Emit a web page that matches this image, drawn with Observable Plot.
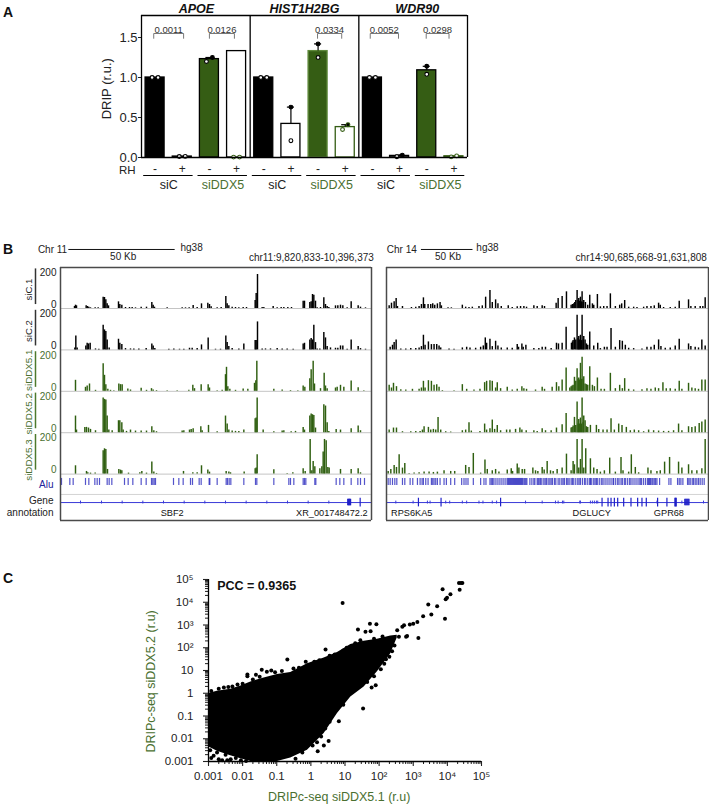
<!DOCTYPE html>
<html>
<head>
<meta charset="utf-8">
<script src="https://cdn.jsdelivr.net/npm/d3@7"></script>
<script src="https://cdn.jsdelivr.net/npm/@observablehq/plot@0.6"></script>
<style>
html,body{margin:0;padding:0;background:#fff}
#fig{position:relative;width:709px;height:804px;overflow:hidden;font-family:"Liberation Sans",Arial,sans-serif}
#fig svg{position:absolute;background:transparent;overflow:visible}
.tag{position:absolute;left:3px;font-weight:bold;font-size:14px;line-height:14px;color:#111}
</style>
</head>
<body>
<div id="fig">
<div class="tag" style="top:5px">A</div>
<div class="tag" style="top:242px">B</div>
<div class="tag" style="top:571px">C</div>
</div>
<script>
// ---------- Panel A data ----------
const genes = ["APOE", "HIST1H2BG", "WDR90"];
const rhLabels = ["-","+","-","+","-","+","-","+","-","+","-","+"];
const groupLabels = ["siC","siDDX5","siC","siDDX5","siC","siDDX5"];
const drip = [1.0,0.012,1.23,1.33, 1.0,0.42,1.33,0.38, 1.0,0.02,1.09,0.015];
const dripDots = [
  [[-0.11,1.0],[0.11,1.0]], [[-0.11,0.012],[0.11,0.014]], [[-0.11,1.2],[0.11,1.25]], [[-0.11,0.005],[0.11,0.005]],
  [[-0.11,1.0],[0.11,1.0]], [[0,0.21],[0,0.63]], [[0,1.25],[0,1.42]], [[-0.1,0.35],[0.1,0.41]],
  [[-0.11,1.0],[0.11,1.0]], [[-0.1,0.01],[0.1,0.03]], [[0,1.04],[0,1.14]], [[-0.1,0.008],[0.1,0.02]]
];
const dripErrTop = [null,null,1.25,null, null,0.63,1.42,0.41, null,0.03,1.14,null];
const pLabels = ["0.0011","0.0126","0.0334","0.0052","0.0298"];
const pFrom = [0.45,2.5,6.48,8.42,10.48];
const pTo = [1.55,3.42,7.37,9.46,11.32];

// ---------- Panel A styles ----------
const GREEN = "#355d14", GREENTXT = "#4a7030";
const barFill = ["#000","#000",GREEN,"#fff","#000","#fff",GREEN,"#fff","#000","#777",GREEN,GREEN];
const barStroke = ["#000","#000","#000","#000","#000","#000","#5f8a3c",GREEN,"#000","#000","#000",GREEN];
const dotStroke = ["#000","#000","#000",GREEN,"#000","#000","#000",GREEN,"#000","#000","#000",GREEN];

// ---------- Panel B data: [position along the window, signal reading] ----------
const L_siC1 = [[222,6],[225,10],[228,8],[257,8],[261,6],[265,4],[270,2],[284,2],[293,2],[308,34],[312,33],[316,26],[320,14],[324,8],[354,20],[358,12],[364,10],[375,3],[387,3],[395,3],[405,2],[422,4],[438,4],[454,18],[458,10],[462,4],[500,2],[545,2],[555,2],[566,2],[578,9],[590,3],[603,14],[622,16],[627,12],[632,5],[650,2],[662,3],[676,36],[680,14],[685,8],[695,4],[705,3],[715,2],[728,3],[738,3],[764,24],[767,45],[771,102],[785,3],[790,3],[818,6],[830,2],[842,3],[850,3],[862,3],[873,3],[908,22],[912,22],[928,18],[932,20],[936,42],[940,40],[945,22],[950,2],[960,3],[970,32],[975,12],[980,6],[985,3],[1005,8],[1012,8],[1020,10],[1027,8],[1040,2],[1052,20],[1073,8],[1080,4],[1095,2]];
const L_siC2 = [[223,6],[226,42],[230,6],[256,12],[260,20],[264,18],[269,20],[285,3],[295,2],[308,74],[312,60],[316,55],[320,30],[326,6],[354,32],[358,20],[364,16],[375,4],[390,3],[400,3],[415,3],[437,4],[454,18],[458,12],[463,4],[505,2],[520,3],[537,2],[550,2],[567,5],[575,5],[590,4],[603,15],[623,36],[645,2],[660,2],[676,42],[680,22],[685,10],[695,4],[715,3],[730,18],[764,28],[767,28],[771,84],[785,3],[795,3],[810,3],[830,4],[845,3],[860,3],[878,2],[908,18],[912,20],[928,30],[932,34],[936,30],[940,74],[945,22],[950,3],[958,3],[970,52],[975,36],[980,10],[990,6],[1005,5],[1012,5],[1020,12],[1027,12],[1040,2],[1052,30],[1073,10],[1080,4],[1095,2]];
const L_dd1 = [[225,33],[255,12],[260,16],[267,22],[285,3],[308,83],[312,48],[316,20],[322,6],[330,3],[340,2],[355,22],[360,20],[365,20],[382,7],[390,4],[422,9],[438,3],[453,8],[458,4],[468,2],[500,2],[530,2],[565,3],[577,18],[582,8],[602,20],[623,20],[627,10],[650,2],[665,3],[675,50],[678,72],[682,14],[688,6],[705,3],[728,7],[742,6],[762,24],[766,32],[769,90],[820,6],[845,4],[870,2],[892,2],[908,16],[913,12],[928,38],[932,65],[938,90],[942,22],[960,8],[971,54],[975,16],[980,8],[1005,10],[1010,12],[1020,18],[1030,12],[1052,31],[1073,11],[1090,2]];
const L_dd2 = [[225,50],[228,8],[253,16],[258,16],[264,14],[270,10],[285,6],[308,104],[312,100],[316,98],[320,50],[325,8],[335,6],[354,36],[358,36],[364,30],[368,8],[378,4],[390,8],[405,5],[422,5],[438,5],[454,18],[460,6],[468,3],[545,5],[550,6],[567,8],[572,10],[578,12],[601,18],[605,6],[624,22],[650,3],[675,50],[680,26],[685,8],[695,5],[705,4],[715,4],[730,8],[764,42],[767,44],[770,104],[788,8],[820,3],[845,5],[850,6],[872,3],[885,4],[908,16],[912,8],[928,50],[932,56],[936,54],[940,52],[945,14],[970,84],[975,80],[980,30],[985,4],[1007,10],[1020,8],[1052,12],[1073,20],[1080,6]];
const L_dd3 = [[225,25],[258,8],[262,4],[270,3],[284,3],[308,70],[312,76],[316,74],[321,14],[355,14],[360,12],[364,10],[384,3],[418,4],[424,8],[438,3],[454,36],[460,6],[468,2],[549,8],[577,4],[590,4],[603,25],[622,12],[627,6],[677,8],[685,6],[690,4],[731,6],[764,16],[767,18],[770,58],[820,13],[860,2],[877,4],[908,16],[914,8],[929,104],[934,10],[938,38],[943,22],[958,16],[964,22],[968,66],[972,104],[977,100],[982,20],[986,18],[1020,14],[1052,14],[1073,16],[1080,4]];
const R_siC1 = [[25,8],[32,16],[40,20],[46,30],[50,6],[65,6],[92,3],[105,4],[115,6],[122,12],[128,32],[132,12],[142,12],[150,12],[156,14],[162,10],[170,14],[178,18],[182,8],[202,2],[212,2],[245,10],[255,4],[265,3],[275,4],[295,6],[305,8],[315,34],[328,54],[335,18],[345,26],[352,14],[362,6],[383,8],[395,3],[410,5],[420,6],[430,6],[438,4],[460,8],[470,6],[485,8],[492,6],[527,16],[533,30],[545,36],[558,50],[572,10],[576,12],[580,14],[583,18],[586,24],[590,54],[593,24],[595,30],[598,22],[600,34],[603,20],[605,50],[608,18],[610,24],[615,18],[622,10],[628,40],[636,14],[640,10],[651,42],[660,5],[670,6],[680,6],[690,44],[705,6],[718,10],[724,14],[733,24],[745,4],[760,4],[770,3],[790,4],[800,6],[812,6],[822,8],[835,16],[840,10],[850,3],[870,3],[885,4],[897,22],[925,26],[932,6],[945,6],[960,6],[968,6],[975,32]];
const R_siC2 = [[28,8],[35,14],[40,22],[46,30],[60,3],[75,3],[90,4],[105,4],[115,6],[122,10],[128,44],[133,14],[143,24],[152,16],[160,16],[168,16],[175,12],[180,6],[205,3],[220,2],[245,6],[258,8],[268,6],[285,5],[300,8],[308,12],[314,36],[318,20],[328,32],[335,10],[345,26],[352,12],[362,6],[380,6],[395,5],[410,16],[414,8],[424,18],[428,8],[436,14],[460,4],[475,4],[485,8],[495,8],[512,4],[528,20],[534,18],[545,20],[557,68],[573,20],[576,24],[578,28],[582,36],[586,30],[590,104],[593,34],[595,40],[598,30],[600,44],[603,28],[605,104],[608,30],[610,40],[614,30],[618,18],[622,14],[628,54],[640,12],[652,20],[660,4],[672,8],[680,8],[692,64],[705,8],[718,28],[726,26],[735,14],[745,5],[760,4],[785,3],[800,8],[812,8],[822,14],[835,30],[842,10],[855,5],[870,6],[885,12],[897,32],[925,18],[932,10],[945,8],[955,6],[965,30],[975,12]];
const R_dd1 = [[25,18],[32,10],[38,24],[47,14],[60,5],[75,4],[95,6],[115,6],[122,10],[128,30],[133,10],[143,32],[152,30],[160,18],[168,20],[175,12],[185,2],[220,2],[245,20],[258,6],[280,4],[298,6],[312,26],[318,30],[328,32],[335,30],[345,10],[350,26],[360,8],[380,12],[395,4],[410,6],[424,14],[430,8],[438,6],[465,4],[485,12],[492,6],[515,12],[528,26],[535,14],[545,34],[557,70],[568,10],[572,14],[575,16],[578,18],[582,42],[586,30],[590,68],[593,36],[595,40],[598,34],[600,84],[603,36],[605,102],[608,36],[610,44],[614,22],[618,20],[622,18],[628,74],[636,18],[642,14],[651,40],[662,6],[672,6],[690,54],[705,8],[718,18],[726,8],[733,38],[745,6],[760,4],[785,5],[800,8],[812,6],[825,10],[835,8],[848,26],[858,8],[870,8],[885,6],[897,30],[905,6],[925,24],[935,10],[945,8],[955,6],[965,34],[975,34]];
const R_dd2 = [[25,8],[38,14],[47,14],[65,3],[90,3],[105,4],[118,4],[125,8],[130,18],[143,16],[150,8],[158,10],[165,8],[172,46],[180,8],[195,3],[210,2],[245,6],[255,8],[265,30],[272,5],[298,4],[312,26],[318,8],[328,12],[335,38],[342,10],[350,22],[360,6],[378,8],[388,8],[405,10],[418,14],[424,8],[437,6],[460,6],[470,4],[485,12],[495,6],[512,6],[528,14],[545,24],[557,58],[572,14],[575,16],[578,20],[582,46],[586,22],[590,92],[593,26],[595,40],[598,26],[600,44],[603,26],[605,104],[608,30],[610,50],[614,36],[618,18],[622,16],[630,22],[648,22],[655,10],[668,8],[680,8],[692,42],[702,8],[715,26],[725,22],[738,16],[750,6],[762,8],[775,6],[790,3],[805,8],[820,6],[835,5],[850,4],[865,4],[880,6],[895,26],[905,6],[925,18],[935,16],[945,18],[957,28],[965,32],[975,38]];
const R_dd3 = [[22,8],[30,14],[40,26],[47,20],[55,58],[65,18],[72,32],[85,2],[100,3],[115,4],[130,6],[145,6],[158,5],[170,6],[190,10],[210,8],[222,8],[255,26],[265,20],[278,62],[300,3],[313,42],[320,14],[335,10],[345,14],[355,6],[380,12],[392,16],[396,8],[410,30],[415,18],[425,14],[432,14],[457,18],[465,10],[472,8],[485,20],[491,12],[500,38],[510,10],[518,8],[530,14],[545,18],[558,60],[572,10],[578,38],[582,28],[590,104],[595,18],[600,44],[605,104],[610,18],[616,76],[630,46],[640,18],[650,14],[660,6],[672,10],[688,48],[705,6],[722,50],[728,10],[745,6],[753,58],[765,20],[775,4],[803,18],[812,10],[830,8],[840,10],[853,36],[868,50],[895,36],[905,18],[925,28],[935,10],[950,10],[965,16],[975,104]];
const L_alu = [183,208,218,255,265,283,290,297,320,326,334,372,383,397,422,437,453,457,461,465,519,535,548,570,576,596,602,626,628,650,677,681,686,691,730,765,769,820,865,870,880,908,912,916,943,946,1007,1018,1030,1052,1072,1080,1092];
const R_alu = [22,28,35,42,48,65,72,88,96,110,118,124,128,135,142,152,156,160,165,170,178,190,197,210,222,243,250,256,262,278,300,310,316,328,332,336,340,346,352,358,364,370,376,381,384,387,390,393,396,399,402,405,408,411,414,417,420,423,426,430,433,436,439,448,454,460,463,470,473,476,480,484,490,494,498,503,508,512,516,522,526,533,538,544,548,552,558,562,566,572,576,580,586,592,596,600,606,612,616,622,628,630,634,640,644,648,652,658,664,668,674,680,686,692,698,700,706,712,716,722,726,732,736,742,748,752,758,764,770,776,780,784,790,796,802,805,808,811,815,818,822,826,830,838,866,872,892,897,902,908,922,926,930,936,940,945,950,955,960,966,972];
const L_exonTall = [1079];
const L_exonBox = [1042,1044,1046,1048,1050];
const L_exonSmall = [240,303,365,427,489,551,613,675,737,799,861,923,985];
const R_exonTall = [113,181,360,665,683,692,702,712,730,752,772,785,798,832,860,884,886,888];
const R_exonBox = [914,917,920,923,926];
const R_exonSmall = [45,97,140,148,195,207,245,258,295,307,335,348,435,485,525,533,546,550,598,600,630,636,642,648,652,830,905,970];

const trackNames = ["siC.1","siC.2","siDDX5.1","siDDX5.2","siDDX5.3"];
const trackColors = ["#000","#000","#2f5f10","#2f5f10","#2f5f10"];
const rulerColors = ["#333","#333","#4c7a2e","#4c7a2e","#4c7a2e"];
const trackTicks = [200, 0];

// ---------- Panel C data: log10 coordinates ----------
const blobX = [-3,-2.74,-2.35,-2.05,-1.76,-1.37,-0.98,-0.59,-0.10,0.39,0.78,1.17,1.56,1.95,2.34,2.53];
const blobHi = [-0.01,0.09,0.18,0.32,0.50,0.67,0.82,0.91,1.30,1.55,1.79,2.14,2.29,2.37,2.52,2.55];
const blobLo = [-2.35,-2.55,-2.75,-2.88,-3,-3,-3,-2.85,-2.50,-1.77,-0.89,-0.16,0.28,0.94,1.74,2.43];
const outX = [0.93,4.40,4.34,4.44,4.36,3.86,4.09,3.99,3.95,3.70,3.44,3.53,3.29,3.93,3.15,3.12,3.0,2.9,2.73,2.68,2.53,2.82,2.79,2.58,1.92,1.73,1.75,1.6,1.38,-0.69,-0.15,0.43,1.53,0.82,1.9,1.78,-1.86,-1.86,-1.61,-1.44,-1.29,-1.16,-0.51,
 -2.92,-2.7,-2.55,-2.42,-2.3,-2.15,-2.0,-1.7,-1.5,-1.05,-0.85,-0.35,0.1,0.25,0.55,0.7,0.95,1.05,1.3,1.45,1.85,2.1,
 2.45,2.38,2.3,2.2,2.15,2.05,1.85,1.65,1.45,1.3,1.1,0.95,0.7,0.55,0.42,0.3,0.18,0.05,-0.25,-0.45,0.52,0.38,0.2,
 -2.95,-2.85,-2.75,-2.6,-2.5,-2.35,-2.2,-2.05,-1.9,-2.92,-2.7,-2.45];
const outY = [3.97,4.85,4.85,4.85,4.55,4.57,4.35,4.20,4.13,3.82,3.90,3.46,3.38,3.27,2.43,3.13,3.06,3.02,2.99,2.92,2.77,2.52,2.48,2.48,3.03,3.05,2.72,2.70,2.80,1.48,1.38,1.92,-0.67,-1.23,0.35,0.25,0.75,0.82,0.81,1.03,0.94,1.0,1.09,
 0.1,0.2,0.25,0.28,0.3,0.38,0.42,0.6,0.72,0.92,0.98,1.12,1.38,1.45,1.65,1.7,1.88,2.0,2.2,2.33,2.4,2.5,
 2.1,1.85,1.6,1.5,1.3,1.05,0.75,0.5,0.45,0.2,-0.05,-0.5,-0.8,-1.25,-1.55,-1.9,-2.15,-2.3,-2.6,-2.88,-2.1,-2.3,-2.55,
 -2.5,-2.75,-2.6,-2.95,-2.7,-2.9,-2.85,-2.95,-2.98,-2.85,-2.9,-2.95];
const decadeTicks = [0.001,0.01,0.1,1,10,100,1000,10000,100000];
const decadeLabels = ["0.001","0.01","0.1","1","10","10²","10³","10⁴","10⁵"];

// ---------- Helpers ----------
const fig = document.getElementById("fig");
const FONT = '"Liberation Sans",Arial,sans-serif';
function place(svg, left, top) {
  svg.style.left = left + "px";
  svg.style.top = top + "px";
  fig.appendChild(svg);
}
function label(str, x, y, o = {}) {
  return Plot.text([str], {x: () => x, y: () => y, text: d => d, fontFamily: FONT, ...o});
}

// ---------- Panel A ----------
const idx = d3.range(12);
const Y_TOP = 1.775, Y_RH = -0.14, Y_RHL = -0.165, Y_LINE = -0.225, Y_GROUP = -0.345, Y_P = 1.6, P_HI = 1.55, P_LO = 1.49;
const bracketPts = pLabels.flatMap((p, i) => [
  {p, x: pFrom[i], y: P_LO}, {p, x: pFrom[i], y: P_HI}, {p, x: pTo[i], y: P_HI}, {p, x: pTo[i], y: P_LO}
]);
const dots = idx.flatMap(i => dripDots[i].map(([o, v], j) => ({x: i + 0.5 + o, v, stroke: dotStroke[i], top: j === 1 && dripErrTop[i] != null})));
const errs = idx.filter(i => dripErrTop[i] != null).map(i => ({i, lo: drip[i], hi: dripErrTop[i]}));

const plotA = Plot.plot({
  width: 709, height: 200,
  marginLeft: 141, marginRight: 242, marginTop: 15, marginBottom: 0,
  x: {domain: [0, 12], axis: null},
  y: {domain: [-0.5375, Y_TOP]},
  color: {type: "identity"},
  style: {fontFamily: FONT, background: "transparent"},
  marks: [
    Plot.rectY(idx, {x1: i => i + 0.15, x2: i => i + 0.85, y1: () => 0, y2: i => drip[i], fill: i => barFill[i], stroke: i => barStroke[i], strokeWidth: 1.3}),
    Plot.ruleX(errs, {x: d => d.i + 0.5, y1: "lo", y2: "hi", stroke: "#000", strokeWidth: 1.2}),
    Plot.ruleY(errs, {y: "hi", x1: d => d.i + 0.37, x2: d => d.i + 0.63, stroke: "#000", strokeWidth: 1.2}),
    Plot.dot(dots, {x: "x", y: "v", r: 1.9, fill: d => d.top ? "#000" : "#fff", stroke: "stroke", strokeWidth: 1.1}),
    Plot.ruleX([0, 4, 8, 12], {y1: 0, y2: Y_TOP, stroke: "#000", strokeWidth: 1.3}),
    Plot.ruleY([0, Y_TOP], {x1: 0, x2: 12, stroke: "#000", strokeWidth: 1.3}),
    Plot.axisY({ticks: [0, 0.5, 1, 1.5], tickFormat: ".1f", tickSize: 3, tickPadding: 1, fontSize: 13, label: null, color: "#222"}),
    label("DRIP (r.u.)", -1.26, 0.86, {rotate: -90, fontSize: 13, fill: "#222"}),
    label("RH", -0.52, Y_RHL, {fontSize: 11.5, fill: "#222"}),
    Plot.text(rhLabels, {x: (d, i) => i + 0.5, y: () => Y_RH, text: d => d, fontSize: 12, fill: "#222"}),
    Plot.ruleY(groupLabels, {y: () => Y_LINE, x1: (d, i) => i * 2 + 0.08, x2: (d, i) => i * 2 + 1.9, stroke: "#000", strokeWidth: 1}),
    Plot.text(groupLabels, {x: (d, i) => i * 2 + 1, y: () => Y_GROUP, text: d => d, fontSize: 12.5, fill: d => d === "siC" ? "#222" : GREENTXT}),
    Plot.text(genes, {x: [2.02, 6, 10.15], y: () => 1.86, text: d => d, fontSize: 12.5, fontWeight: "bold", fontStyle: "italic", fill: "#111"}),
    Plot.line(bracketPts, {x: "x", y: "y", z: "p", stroke: "#555", strokeWidth: 0.8}),
    Plot.text(pLabels, {x: (d, i) => (pFrom[i] + pTo[i]) / 2, y: () => Y_P, text: d => d, fontSize: 9.5, fill: "#333"})
  ]
});
place(plotA, 0, 0);

// ---------- Panel B ----------
const READ = 200 / 108;      // readings to signal units
const ROW = 230;             // signal units between two track baselines
const Y_FRAME_T = 228, Y_FRAME_B = -1178, Y_BAR = 328, Y_HEAD = 283, Y_ALU = [-944, -983], Y_SEP = -1033, Y_GENE = -1078, Y_NAME = -1139;
const nameShift = [105, 105, 117, 105, 78];

function trackPanel(cfg) {
  const [x0, x1] = cfg.domain;
  const base = i => -i * ROW;
  const marks = [];
  trackNames.forEach((n, i) => {
    marks.push(Plot.ruleY([base(i)], {x1: x0, x2: x1, stroke: "#c4c4c4", strokeWidth: 1}));
    marks.push(Plot.ruleX(cfg.tracks[i], {x: d => d[0], y1: () => base(i), y2: d => base(i) + d[1] * READ, stroke: trackColors[i], strokeWidth: 1.45}));
  });
  marks.push(
    Plot.ruleX(cfg.alu, {y1: Y_ALU[0], y2: Y_ALU[1], stroke: "#1a1ab8", strokeOpacity: 0.75, strokeWidth: 1.2}),
    Plot.ruleY([Y_SEP], {x1: x0, x2: x1, stroke: "#d4d4d4", strokeWidth: 1}),
    Plot.ruleY([Y_GENE], {x1: x0, x2: x1, stroke: "#3a3ad8", strokeWidth: 1}),
    Plot.ruleX(cfg.exonSmall, {y1: Y_GENE - 8, y2: Y_GENE + 8, stroke: "#3a3ad8", strokeWidth: 1}),
    Plot.ruleX(cfg.exonBox, {y1: Y_GENE - 18, y2: Y_GENE + 18, stroke: "#2020c8", strokeWidth: 1.4}),
    Plot.ruleX(cfg.exonTall, {y1: Y_GENE - 24, y2: Y_GENE + 24, stroke: "#2020c8", strokeWidth: 1.2}),
    Plot.ruleX([x0, x1], {y1: Y_FRAME_T, y2: Y_FRAME_B, stroke: "#4a4a4a", strokeWidth: 1.5}),
    Plot.ruleY([Y_FRAME_T, Y_FRAME_B], {x1: x0, x2: x1, stroke: "#4a4a4a", strokeWidth: 1.5}),
    Plot.ruleY([Y_BAR], {x1: cfg.bar[0], x2: cfg.bar[1], stroke: "#111", strokeWidth: 1}),
    label(cfg.chr, cfg.chrX, Y_BAR, {fontSize: 10, textAnchor: "end", fill: "#222"}),
    label("hg38", cfg.hgX, Y_BAR + 8, {fontSize: 10, textAnchor: "start", fill: "#222"}),
    label("50 Kb", cfg.kbX, Y_HEAD + 5, {fontSize: 10, fill: "#222"}),
    label(cfg.coord, cfg.coordX, Y_HEAD, {fontSize: 10, textAnchor: "end", fill: "#222"}),
    Plot.text(cfg.names, {x: (d, i) => cfg.nameX[i], y: () => Y_NAME, text: d => d, fontSize: 9.2, fill: "#111"})
  );
  if (cfg.left) {
    trackNames.forEach((n, i) => {
      const c = i < 2 ? "#222" : GREENTXT;
      marks.push(
        Plot.ruleX([x0], {y1: base(i) + 22, y2: base(i) + 220, dx: -25, stroke: rulerColors[i], strokeWidth: 1.5}),
        Plot.text(trackTicks.slice(0, 1), {x: () => x0, y: t => base(i) + t, text: t => String(t), dx: -4, textAnchor: "end", fontSize: 10, fill: c}),
        Plot.text(trackTicks.slice(1), {x: () => x0, y: t => base(i) + t, text: t => String(t), dx: -4, dy: -4, textAnchor: "end", fontSize: 10, fill: c}),
        label(n, x0, base(i) + nameShift[i], {rotate: -90, dx: -32, fontSize: i < 2 ? 9.6 : 9.8, fill: c})
      );
    });
    marks.push(
      label("Alu", x0, -978, {dx: -7, textAnchor: "end", fontSize: 10, fill: "#22229a"}),
      label("Gene", x0, -1067, {dx: -7, textAnchor: "end", fontSize: 10, fill: "#222"}),
      label("annotation", x0, -1133, {dx: -7, textAnchor: "end", fontSize: 10, fill: "#222"})
    );
  }
  return Plot.plot({
    width: cfg.width, height: 300,
    marginLeft: cfg.ml, marginRight: cfg.mr, marginTop: 0, marginBottom: 0,
    x: {domain: cfg.domain, axis: null},
    y: {domain: [-1211, 455.6], axis: null},
    style: {fontFamily: FONT, background: "transparent"},
    marks
  });
}
place(trackPanel({
  left: true, domain: [180, 1113], width: 375, ml: 60, mr: 4,
  tracks: [L_siC1, L_siC2, L_dd1, L_dd2, L_dd3], alu: L_alu,
  exonSmall: L_exonSmall, exonBox: L_exonBox, exonTall: L_exonTall,
  bar: [205, 524], chr: "Chr 11", chrX: 200, hgX: 540, kbX: 368,
  coord: "chr11:9,820,833-10,396,373", coordX: 1120,
  names: ["SBF2", "XR_001748472.2"], nameX: [515, 994]
}), 0, 226);
place(trackPanel({
  left: false, domain: [17, 985], width: 329, ml: 6, mr: 1,
  tracks: [R_siC1, R_siC2, R_dd1, R_dd2, R_dd3], alu: R_alu,
  exonSmall: R_exonSmall, exonBox: R_exonBox, exonTall: R_exonTall,
  bar: [122, 277], chr: "Chr 14", chrX: 108, hgX: 287, kbX: 202,
  coord: "chr14:90,685,668-91,631,808", coordX: 980,
  names: ["RPS6KA5", "DGLUCY", "GPR68"], nameX: [93, 634, 866]
}), 380, 226);

// ---------- Panel C ----------
const minor = decadeTicks.slice(0, -1).flatMap(d => [2,3,4,5,6,7,8,9].map(m => d * m));
const blob = blobX.map((e, i) => ({x: 10 ** e, lo: 10 ** blobLo[i], hi: 10 ** blobHi[i]}));
const outliers = outX.map((e, i) => ({x: 10 ** e, y: 10 ** outY[i]}));
const fmtTick = v => decadeLabels[decadeTicks.findIndex(t => Math.abs(Math.log10(t / v)) < 1e-6)];

const plotC = Plot.plot({
  width: 709, height: 239,
  marginLeft: 208, marginRight: 228, marginTop: 14, marginBottom: 43,
  x: {type: "log", domain: [1e-3, 1e5], axis: null},
  y: {type: "log", domain: [1e-3, 1e5], axis: null},
  style: {fontFamily: FONT, background: "transparent"},
  marks: [
    Plot.area(blob, {x1: "x", y1: "lo", y2: "hi", fill: "#000"}),
    Plot.dot(outliers, {x: "x", y: "y", r: 2, fill: "#000"}),
    Plot.axisX({ticks: minor, tickSize: 3, tickFormat: () => "", label: null, anchor: "bottom", strokeWidth: 0.9}),
    Plot.axisY({ticks: minor, tickSize: 3, tickFormat: () => "", label: null, anchor: "left", strokeWidth: 0.9}),
    Plot.axisX({ticks: decadeTicks, tickSize: 5, tickPadding: 5, tickFormat: fmtTick, label: null, anchor: "bottom", fontSize: 11.5, color: "#222", strokeWidth: 1.1}),
    Plot.axisY({ticks: decadeTicks, tickSize: 5, tickPadding: 10, tickFormat: fmtTick, label: null, anchor: "left", fontSize: 11.5, color: "#222", strokeWidth: 1.1}),
    Plot.ruleX([1e-3], {y1: 1e-3, y2: 1e5, stroke: "#000", strokeWidth: 1.3}),
    Plot.ruleY([1e-3], {x1: 1e-3, x2: 1e5, stroke: "#000", strokeWidth: 1.3}),
    Plot.text(["PCC = 0.9365"], {x: () => 1.8e-3, y: () => 5e4, text: d => d, textAnchor: "start", fontSize: 12.5, fontWeight: "bold", fill: "#111"}),
    Plot.text(["DRIPc-seq siDDX5.1 (r.u)"], {x: () => 10 ** 0.83, y: () => 1e-3, dy: 35, text: d => d, fontSize: 12.5, fill: GREENTXT}),
    Plot.text(["DRIPc-seq siDDX5.2 (r.u)"], {x: () => 1e-3, y: () => 10 ** 0.52, dx: -58, rotate: -90, text: d => d, fontSize: 12.5, fill: GREENTXT})
  ]
});
place(plotC, 0, 565);
</script>
</body>
</html>
